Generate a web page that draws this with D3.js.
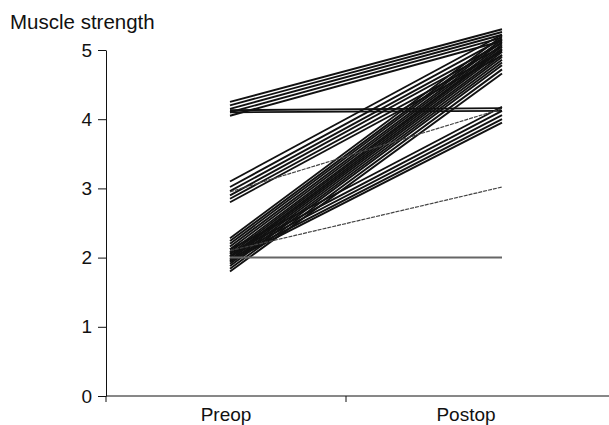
<!DOCTYPE html>
<html>
<head>
  <meta charset="utf-8">
  <script src="https://cdnjs.cloudflare.com/ajax/libs/d3/7.8.5/d3.min.js"></script>
  <title>muscle strength</title>
  <style>
    body { margin: 0; background: #fff; }
    text { font-family: "Liberation Sans", Arial, sans-serif; }
  </style>
</head>
<body>
<script>
var periodos = ["Preop", "Postop"];
var yTicks = [0, 1, 2, 3, 4, 5];

// one value per patient: before and after
var preop  = [4.25, 4.2, 4.15, 4.1, 4.05,
              4.13, 4.1,
              3.1, 3.02, 2.96, 2.9, 2.85, 2.8,
              2.28, 2.24, 2.2, 2.16, 2.12, 2.08, 2.05, 2.02, 2.0, 1.97, 1.94, 1.91, 1.88, 1.84, 1.8,
              2.12, 2.06, 2.02, 1.98, 1.95,
              2.95, 2.1, 2.0];
var postop = [5.3, 5.26, 5.22, 5.18, 5.13,
              4.16, 4.12,
              5.22, 5.16, 5.1, 5.05, 4.98, 4.92,
              5.2, 5.15, 5.12, 5.08, 5.05, 5.02, 5.0, 4.97, 4.93, 4.9, 4.86, 4.82, 4.78, 4.72, 4.66,
              4.18, 4.12, 4.06, 4.0, 3.95,
              4.15, 3.02, 2.0];
// thin grey lines
var finas = [33, 34];
var gris = [35];

var svg = d3.select("body").append("svg")
  .attr("width", 609).attr("height", 425);

var y = d3.scaleLinear().domain([0, 5]).range([396, 50]);
var xBanda = d3.scaleBand().domain(periodos).range([106, 586]);
var xPunto = d3.scalePoint().domain(periodos).range([230, 502]);

// lines
var lineas = svg.append("g");
preop.forEach(function(v, i) {
  lineas.append("line")
    .attr("x1", xPunto("Preop")).attr("y1", y(v))
    .attr("x2", xPunto("Postop")).attr("y2", y(postop[i]))
    .attr("stroke", gris.indexOf(i) >= 0 ? "#666" : (finas.indexOf(i) >= 0 ? "#444" : "#111"))
    .attr("stroke-width", gris.indexOf(i) >= 0 ? 2 : (finas.indexOf(i) >= 0 ? 1.2 : 1.9))
    .attr("stroke-dasharray", finas.indexOf(i) >= 0 ? "4,1" : null);
});

// y axis
var ejeY = svg.append("g")
  .attr("transform", "translate(106,0)")
  .call(d3.axisLeft(y).tickValues(yTicks).tickFormat(d3.format("d"))
    .tickSize(8).tickSizeOuter(0).tickPadding(6));
ejeY.selectAll("text").attr("font-size", 19).attr("fill", "#111")
  .style("font-family", "'Liberation Sans', Arial, sans-serif");
ejeY.selectAll("line, path").attr("stroke", "#111");

// x axis
var ejeX = svg.append("g").attr("transform", "translate(0,396)");
ejeX.append("line").attr("x1", 106).attr("x2", 609).attr("y1", 0).attr("y2", 0)
  .attr("stroke", "#111");
ejeX.selectAll(".tk").data([xBanda.range()[0], xBanda("Postop")]).enter()
  .append("line").attr("class", "tk")
  .attr("x1", function(d) { return d; }).attr("x2", function(d) { return d; })
  .attr("y1", 0).attr("y2", 6).attr("stroke", "#111");
ejeX.selectAll(".lab").data(periodos).enter()
  .append("text").attr("class", "lab")
  .attr("x", function(d) { return xBanda(d) + xBanda.bandwidth() / 2; })
  .attr("y", 25)
  .attr("text-anchor", "middle")
  .attr("font-size", 19).attr("fill", "#111")
  .text(function(d) { return d; });

svg.append("text")
  .attr("x", 10).attr("y", 29)
  .attr("font-size", 20.5).attr("fill", "#111")
  .text("Muscle strength");
</script>
</body>
</html>
